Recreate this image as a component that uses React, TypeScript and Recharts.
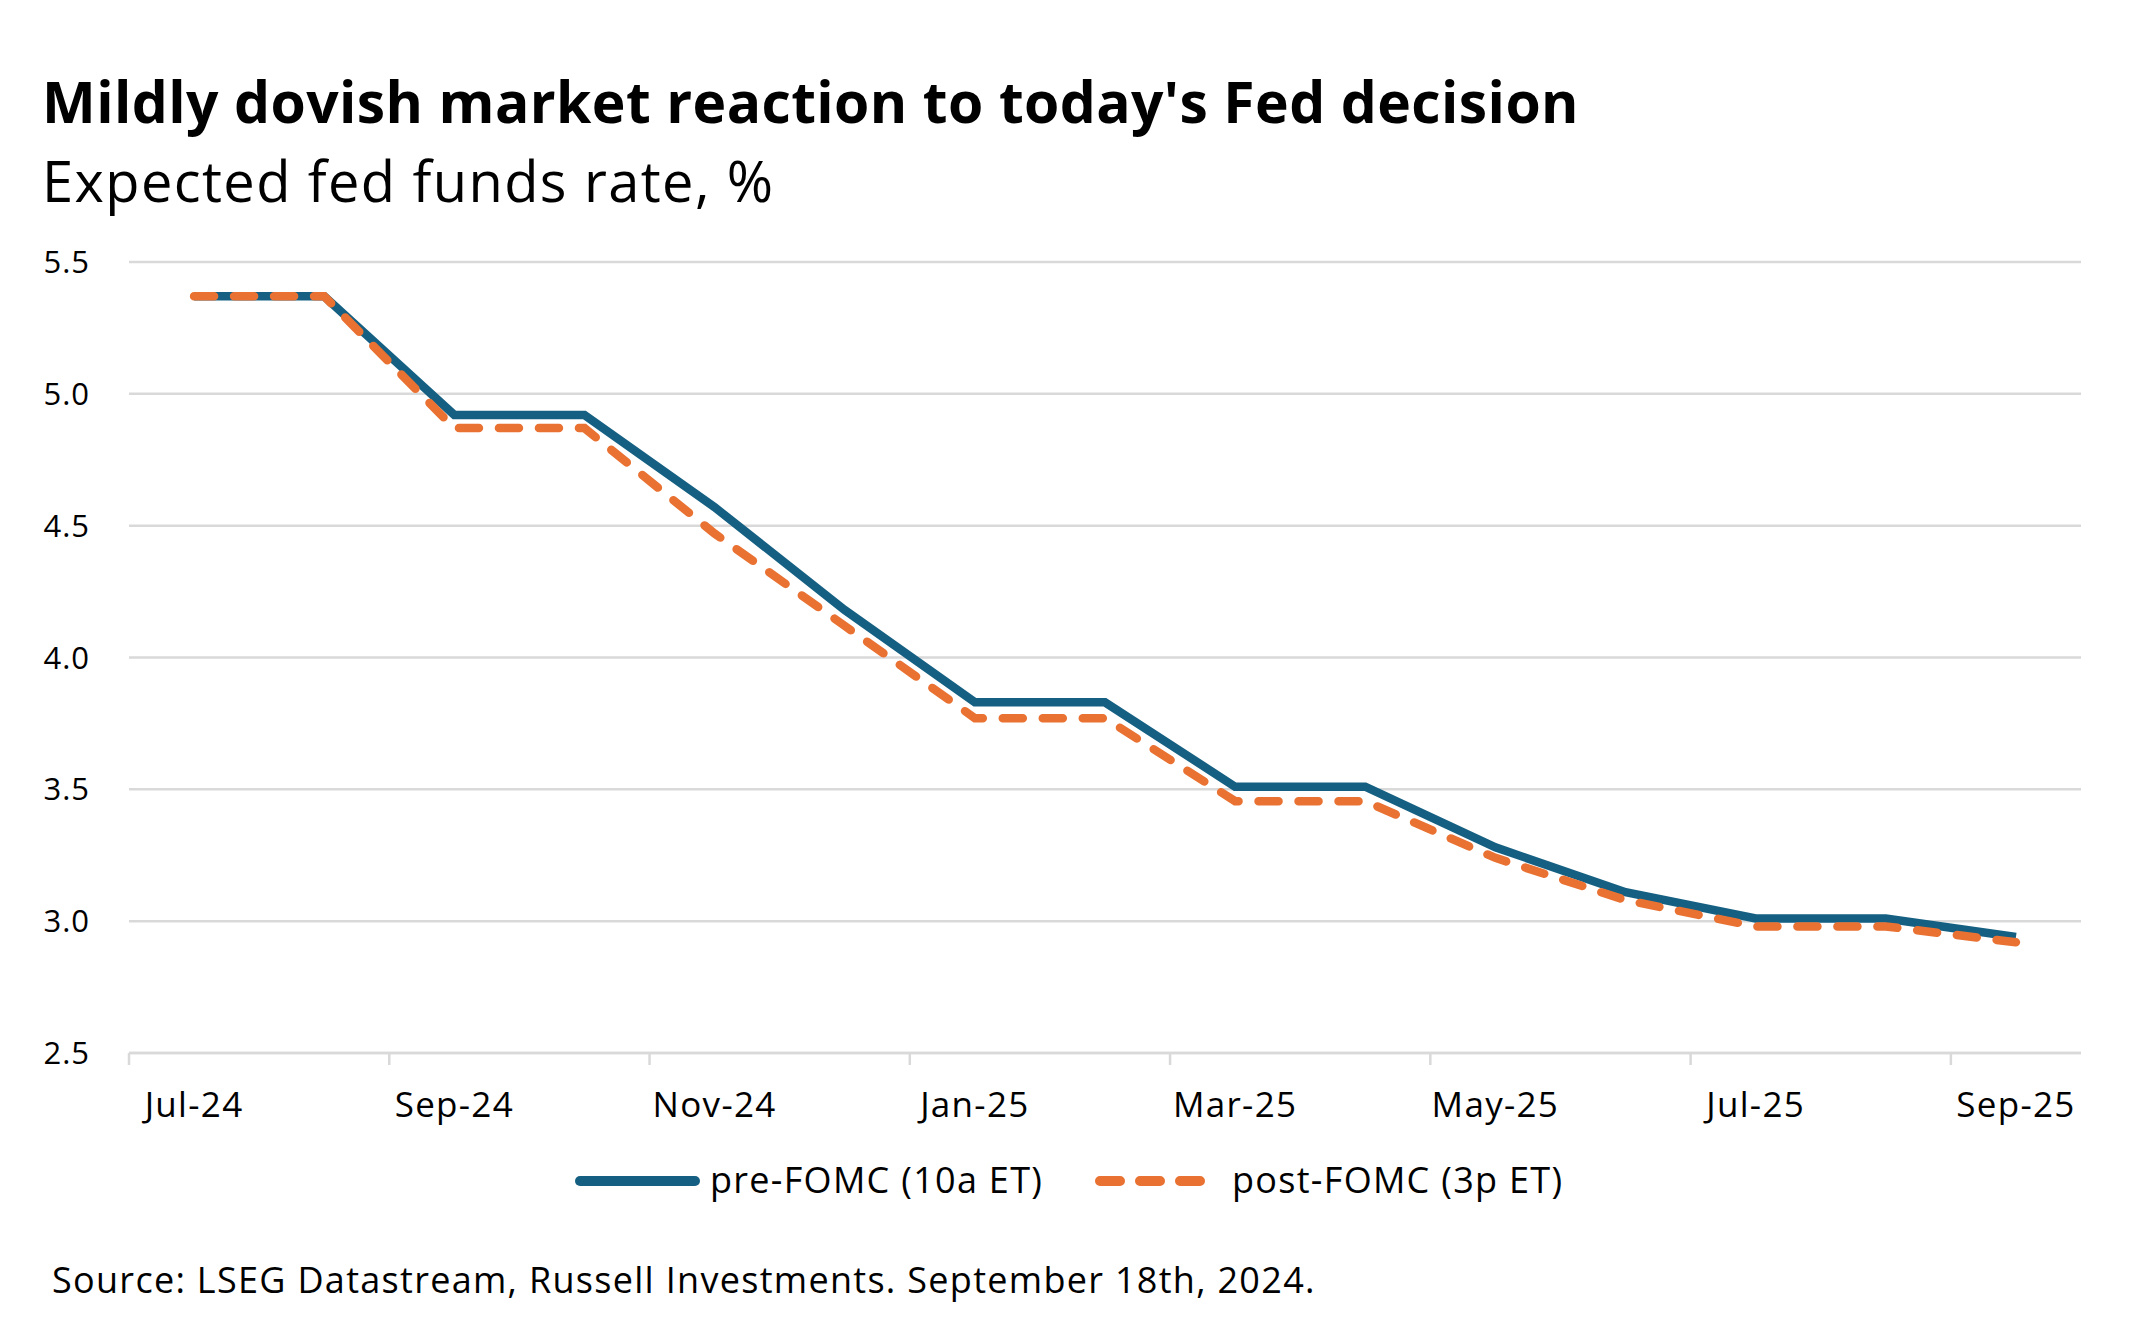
import React from 'react';
import { LineChart, Line, XAxis, YAxis, CartesianGrid } from 'recharts';

const FONT = '"Open Sans", "Noto Sans", sans-serif';

const months = ['Jul-24', 'Aug-24', 'Sep-24', 'Oct-24', 'Nov-24', 'Dec-24', 'Jan-25', 'Feb-25', 'Mar-25', 'Apr-25', 'May-25', 'Jun-25', 'Jul-25', 'Aug-25', 'Sep-25'];
const preFomc = [5.37, 5.37, 4.92, 4.92, 4.57, 4.18, 3.83, 3.83, 3.51, 3.51, 3.28, 3.11, 3.01, 3.01, 2.94];
const postFomc = [5.37, 5.37, 4.87, 4.87, 4.47, 4.12, 3.77, 3.77, 3.455, 3.455, 3.24, 3.08, 2.98, 2.98, 2.92];
const yTicks = [2.5, 3, 3.5, 4, 4.5, 5, 5.5];
const seriesNames = ['pre-FOMC (10a ET)', 'post-FOMC (3p ET)'];
const seriesColors = ['#156082', '#E97132'];
const titleText = "Mildly dovish market reaction to today's Fed decision";
const subtitleText = 'Expected fed funds rate, %';
const sourceText = 'Source: LSEG Datastream, Russell Investments. September 18th, 2024.';

const data = months.map((m, i) => ({ i, month: m, pre: preFomc[i], post: postFomc[i] }));
const labelIdx = months.map((_, i) => i).filter((i) => i % 2 === 0);
const xTicks = labelIdx.flatMap((i) => [i - 0.5, i]);

const GRID = '#D9D9D9';
const LS = 1.3;

const XTick = (props: any) => {
  const { x, y, payload } = props;
  const v = payload.value;
  if (Number.isInteger(v)) {
    return (
      <text x={x} y={y + 64} textAnchor="middle" fontSize={35} fontFamily={FONT} fill="#000" style={{ letterSpacing: LS }}>
        {months[v]}
      </text>
    );
  }
  return <line x1={x} x2={x} y1={y} y2={y + 12} stroke={GRID} strokeWidth={2.5} />;
};

export default function App() {
  return (
    <div style={{ position: 'absolute', left: 0, top: 0, width: 2132, height: 1338, background: '#fff' }}>
      <LineChart
        width={2132}
        height={1338}
        data={data}
        margin={{ top: 262, right: 51, bottom: 225, left: 49 }}
      >
        <CartesianGrid vertical={false} stroke={GRID} strokeWidth={2.5} />
        <XAxis
          dataKey="i"
          type="number"
          domain={[-0.5, 14.5]}
          ticks={xTicks}
          interval={0}
          tick={<XTick />}
          tickLine={false}
          axisLine={{ stroke: GRID, strokeWidth: 2.5 }}
          tickSize={0}
          tickMargin={0}
          height={60}
          allowDataOverflow
        />
        <YAxis
          type="number"
          domain={[2.5, 5.5]}
          ticks={yTicks}
          interval={0}
          tickFormatter={(v: number) => v.toFixed(1)}
          tick={{ fontSize: 31, fill: '#000', fontFamily: FONT, style: { letterSpacing: 1 } }}
          axisLine={false}
          tickLine={false}
          tickSize={0}
          tickMargin={39}
          width={80}
        />
        <Line
          type="linear"
          dataKey="pre"
          name={seriesNames[0]}
          stroke={seriesColors[0]}
          strokeWidth={8.5}
          dot={false}
          activeDot={false}
          isAnimationActive={false}
        />
        <Line
          type="linear"
          dataKey="post"
          name={seriesNames[1]}
          stroke={seriesColors[1]}
          strokeWidth={8.5}
          strokeDasharray="20 20"
          strokeLinecap="round"
          dot={false}
          activeDot={false}
          isAnimationActive={false}
        />
      </LineChart>
      <svg
        width={2132}
        height={1338}
        style={{ position: 'absolute', left: 0, top: 0, pointerEvents: 'none' }}
      >
        <text x={42} y={123} fontSize={57} fontWeight={700} fontFamily={FONT} fill="#000" style={{ letterSpacing: 0.4 }}>
          {titleText}
        </text>
        <text x={42} y={202} fontSize={56} fontFamily={FONT} fill="#000" style={{ letterSpacing: 1.4 }}>
          {subtitleText}
        </text>
        <line x1={580} x2={695} y1={1181} y2={1181} stroke={seriesColors[0]} strokeWidth={10} strokeLinecap="round" />
        <text x={710} y={1193} fontSize={36} fontFamily={FONT} fill="#000" style={{ letterSpacing: LS }}>
          {seriesNames[0]}
        </text>
        <line x1={1100} x2={1201} y1={1181} y2={1181} stroke={seriesColors[1]} strokeWidth={10} strokeLinecap="round" strokeDasharray="20 20" />
        <text x={1232} y={1193} fontSize={36} fontFamily={FONT} fill="#000" style={{ letterSpacing: LS }}>
          {seriesNames[1]}
        </text>
        <text x={52} y={1293} fontSize={36} fontFamily={FONT} fill="#000" style={{ letterSpacing: LS }}>
          {sourceText}
        </text>
      </svg>
    </div>
  );
}
